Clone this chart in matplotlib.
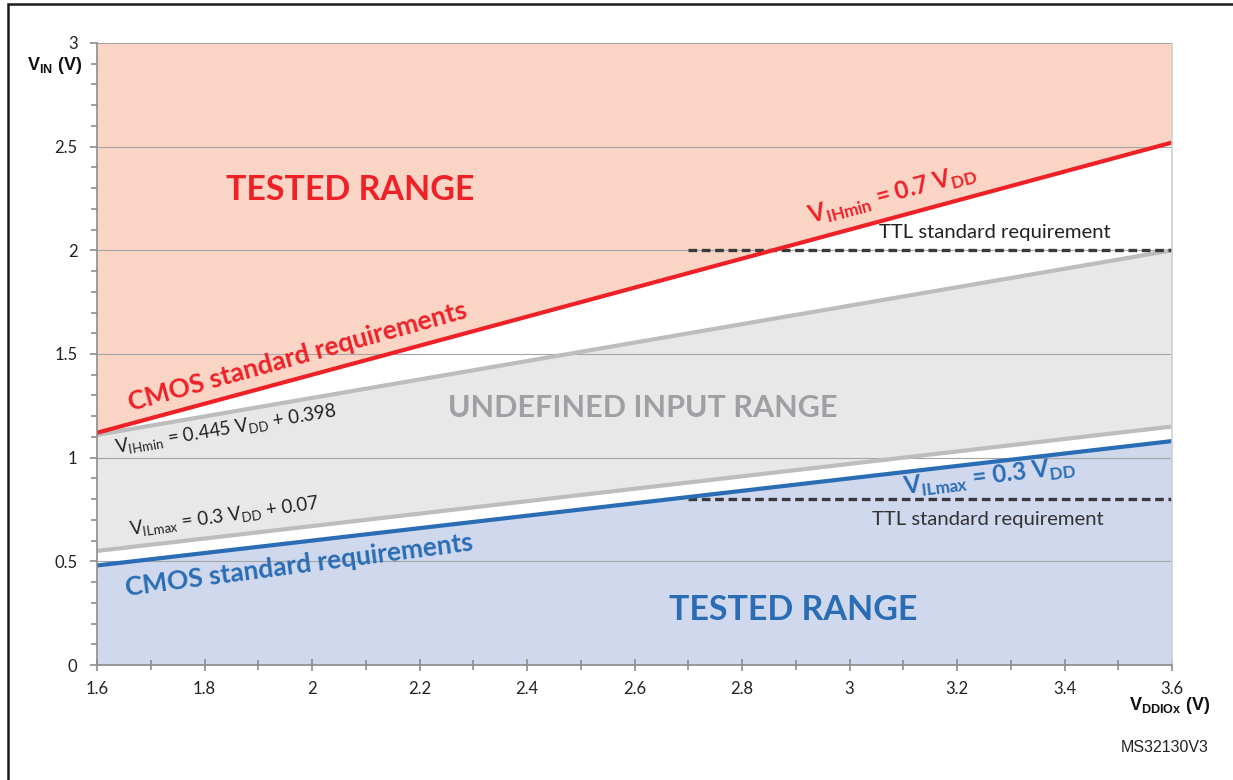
import matplotlib.pyplot as plt
from matplotlib.patches import Rectangle
from matplotlib.ticker import MultipleLocator
import numpy as np

plt.rcParams['font.family'] = ['Lato', 'DejaVu Sans']
plt.rcParams['mathtext.fontset'] = 'custom'
plt.rcParams['mathtext.rm'] = 'Lato:style=normal'
plt.rcParams['mathtext.bf'] = 'Lato:style=normal:weight=bold'
plt.rcParams['mathtext.sf'] = 'Liberation Sans:style=normal:weight=bold'

# supply voltage range (V)
vdd = [1.6, 3.6]
# thresholds at both ends of the range (V)
vih_cmos = [1.12, 2.52]   # 0.7 VDD
vih_io = [1.11, 2.00]     # 0.445 VDD + 0.398
vil_io = [0.55, 1.15]     # 0.3 VDD + 0.07
vil_cmos = [0.48, 1.08]   # 0.3 VDD
# TTL levels
ttl_x = [2.7, 3.6]
ttl_high = [2.0, 2.0]
ttl_low = [0.8, 0.8]

x_ticks = [1.6, 1.8, 2.0, 2.2, 2.4, 2.6, 2.8, 3.0, 3.2, 3.4, 3.6]
x_labels = ['1.6', '1.8', '2', '2.2', '2.4', '2.6', '2.8', '3', '3.2', '3.4', '3.6']
y_ticks = [0, 0.5, 1, 1.5, 2, 2.5, 3]
y_labels = ['0', '0.5', '1', '1.5', '2', '2.5', '3']

red = '#EE2127'
blue = '#2A6DB5'
grey_line = '#BDBDBF'

fig = plt.figure(figsize=(12.33, 7.8), dpi=100)
ax = fig.add_axes([97 / 1233, 1 - 665 / 780, 1075 / 1233, 622 / 780])

# фоновые зоны
ax.fill_between(vdd, vih_cmos, [3, 3], color='#FAD5C5', lw=0, zorder=1)
ax.fill_between(vdd, vil_io, vih_io, color='#E8E8E9', lw=0, zorder=1)
ax.fill_between(vdd, [0, 0], vil_cmos, color='#CFD8EC', lw=0, zorder=1)

# сетка
for y in y_ticks[1:]:
    ax.axhline(y, color='#A5A5A5', lw=0.8, zorder=2)

# линии порогов
ax.plot(vdd, vih_io, color=grey_line, lw=3, solid_capstyle='butt', zorder=3)
ax.plot(vdd, vil_io, color=grey_line, lw=3, solid_capstyle='butt', zorder=3)
ax.plot(ttl_x, ttl_high, color='#3A3A3C', lw=2.4, dashes=(2.6, 1.4), zorder=4)
ax.plot(ttl_x, ttl_low, color='#3A3A3C', lw=2.4, dashes=(2.6, 1.4), zorder=4)
ax.plot(vdd, vih_cmos, color=red, lw=3, solid_capstyle='butt', zorder=5)
ax.plot(vdd, vil_cmos, color=blue, lw=3, solid_capstyle='butt', zorder=5)

ax.set_xlim(1.6, 3.6)
ax.set_ylim(0, 3)

ax.spines['top'].set_visible(False)
ax.spines['right'].set_color('#D0D0D0')
ax.spines['left'].set_color('#8C8C8C')
ax.spines['bottom'].set_color('#8C8C8C')
for s in ax.spines.values():
    s.set_linewidth(1.2)
    s.set_zorder(6)

ax.set_xticks(x_ticks)
ax.set_xticklabels(x_labels)
ax.set_yticks(y_ticks)
ax.set_yticklabels(y_labels)
ax.xaxis.set_minor_locator(MultipleLocator(0.1))
ax.yaxis.set_minor_locator(MultipleLocator(0.1))
ax.tick_params(axis='x', which='major', direction='inout', length=9, width=1.2, color='#8C8C8C',
               labelsize=12, pad=7, labelcolor='#222222')
ax.tick_params(axis='x', which='minor', direction='inout', length=7, width=1.2, color='#8C8C8C')
ax.tick_params(axis='y', which='major', direction='out', length=5, width=1.2, color='#8C8C8C',
               labelsize=12, pad=9, labelcolor='#222222')
ax.tick_params(axis='y', which='minor', direction='out', length=4, width=1.2, color='#8C8C8C')

# подписи зон
ax.text(2.071, 2.29, 'TESTED RANGE', color=red, fontsize=24.5, fontweight='bold',
        ha='center', va='center', zorder=7)
ax.text(2.895, 0.265, 'TESTED RANGE', color=blue, fontsize=24.5, fontweight='bold',
        ha='center', va='center', zorder=7)
ax.text(2.616, 1.24, 'UNDEFINED INPUT RANGE', color='#A0A0A4', fontsize=22, fontweight='bold',
        ha='center', va='center', zorder=7)

ax.text(1.974, 1.485, 'CMOS standard requirements', color=red, fontsize=19, fontweight='bold',
        ha='center', va='center', rotation=15.5, rotation_mode='anchor', zorder=7)
ax.text(1.976, 0.48, 'CMOS standard requirements', color=blue, fontsize=19, fontweight='bold',
        ha='center', va='center', rotation=7.5, rotation_mode='anchor', zorder=7)

ax.text(3.081, 2.27, r'V$_{\mathbf{IHmin}}$ = 0.7 V$_{\mathbf{DD}}$', color=red, fontsize=17.5,
        fontweight='bold', ha='center', va='center', rotation=15, rotation_mode='anchor', zorder=7)
ax.text(3.26, 0.905, r'V$_{\mathbf{ILmax}}$ = 0.3 V$_{\mathbf{DD}}$', color=blue, fontsize=17.5,
        fontweight='bold', ha='center', va='center', rotation=7, rotation_mode='anchor', zorder=7)

ax.text(1.84, 1.134, r'V$_{\mathrm{IHmin}}$ = 0.445 V$_{\mathrm{DD}}$ + 0.398', color='#222222',
        fontsize=13.5, ha='center', va='center', rotation=9.5, rotation_mode='anchor', zorder=7)
ax.text(1.836, 0.714, r'V$_{\mathrm{ILmax}}$ = 0.3 V$_{\mathrm{DD}}$ + 0.07', color='#222222',
        fontsize=13.5, ha='center', va='center', rotation=8, rotation_mode='anchor', zorder=7)

ax.text(3.271, 2.084, 'TTL standard requirement', color='#222222', fontsize=14.6,
        ha='center', va='center', zorder=7)
ax.text(3.258, 0.70, 'TTL standard requirement', color='#333333', fontsize=14.6,
        ha='center', va='center', zorder=7)

# подписи осей
fig.text(55 / 1233, 1 - 66 / 780, r'V$_{\mathsf{IN}}$ (V)', family='Liberation Sans', fontweight='bold',
         fontsize=13, ha='center', va='center', color='#111111')
fig.text(1170 / 1233, 1 - 706 / 780, r'V$_{\mathsf{DDIOx}}$ (V)', family='Liberation Sans', fontweight='bold',
         fontsize=13, ha='center', va='center', color='#111111')
fig.text(1165 / 1233, 1 - 748 / 780, 'MS32130V3', family='Liberation Sans', fontsize=11.5,
         ha='center', va='center', color='#222222')

# рамка
fig.add_artist(Rectangle((8 / 1233, -0.1), 1.2, 0.1 + 1 - 4 / 780, fill=False, ec='#1A1A1A',
                         lw=1.8, transform=fig.transFigure))

fig.savefig('out.png', dpi=100)
